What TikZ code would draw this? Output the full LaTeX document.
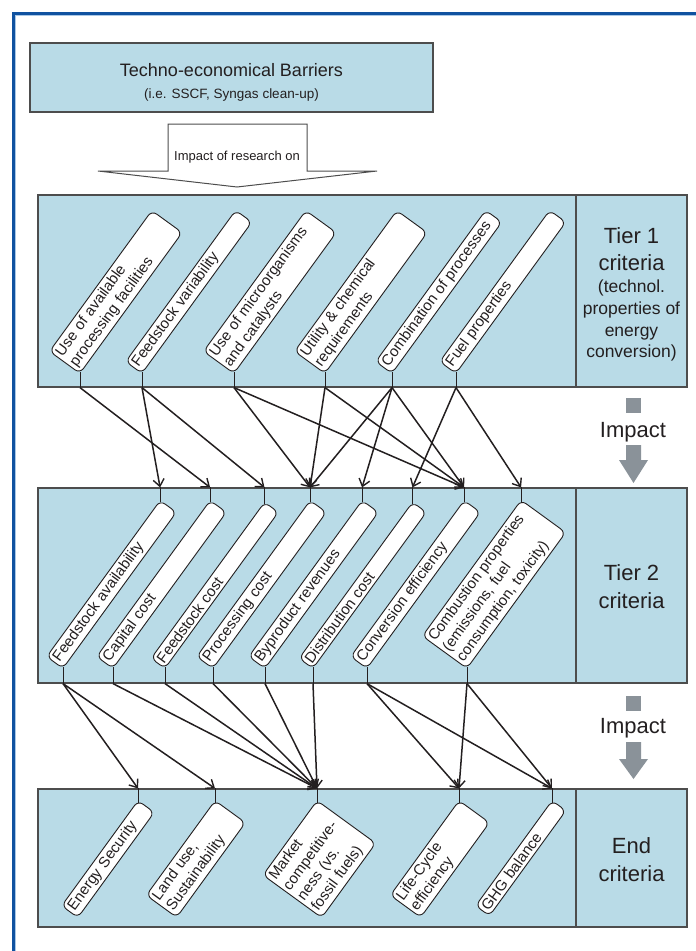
\documentclass[tikz,border=0pt]{standalone}
\usepackage{fontspec}
\setmainfont{Liberation Sans}
\usepackage{tikz}
\usepackage{xcolor}
\definecolor{boxblue}{RGB}{185, 219, 231}
\definecolor{framegray}{RGB}{77, 77, 77}
\definecolor{inkblack}{RGB}{35, 31, 32}
\definecolor{impactgray}{RGB}{138, 146, 153}
\definecolor{borderblue}{RGB}{16, 82, 160}
\definecolor{borderlight}{RGB}{170, 200, 230}
\usetikzlibrary{arrows.meta, positioning, calc}

\tikzset{
  tierbox/.style={draw=framegray, fill=boxblue, line width=1.2pt, inner sep=0pt},
  crit/.style={draw=inkblack, fill=white, line width=0.9pt, rounded corners=6pt,
               rotate=54, align=left, text width=#1, inner sep=3pt,
               font=\fontsize{15}{17.5}\selectfont},
  stem/.style={draw=inkblack, line width=0.9pt},
  impact/.style={-{Straight Barb[length=7pt, width=11pt, line width=1.4pt]},
                 draw=inkblack, line width=1.5pt},
  biglabel/.style={anchor=base, inner sep=0pt, font=\fontsize{22}{26}\selectfont},
  smalllabel/.style={anchor=base, inner sep=0pt, font=\fontsize{17.5}{21}\selectfont}
}

\begin{document}
\begin{tikzpicture}[x=1pt, y=-1pt, text=inkblack]
  \useasboundingbox (0,0) rectangle (696,951);

  % outer frame
  \draw[borderblue, line width=3pt] (13,951) -- (13,13) -- (696,13);
  \draw[borderlight, line width=1pt] (15.5,951) -- (15.5,15.5) -- (696,15.5);

  % barriers
  \node[tierbox, minimum width=403pt, minimum height=69pt] (barrier) at (231.5,77.5) {};
  \node[anchor=base, inner sep=0pt, font=\fontsize{18}{21}\selectfont] (barriertitle) at (231.5,76)
        {Techno-economical Barriers};
  \node[anchor=base, inner sep=0pt, font=\fontsize{13.5}{16}\selectfont] (barriersub) at (231.5,98)
        {(i.e. SSCF, Syngas clean-up)};

  % research arrow
  \draw[framegray, fill=white, line width=1pt]
        (168,171) -- (168,124) -- (307,124) -- (307,171) -- (377,171)
        -- (237,187) -- (98,171) -- cycle;
  \node[font=\fontsize{13}{15}\selectfont, anchor=base] (research) at (237,160) {Impact of research on};

  % tier boxes
  \node[tierbox, minimum width=538pt, minimum height=192pt] (tier1) at (307,291) {};
  \node[tierbox, minimum width=111pt, minimum height=192pt] (tier1lbl) at (631.5,291) {};
  \node[tierbox, minimum width=538pt, minimum height=195pt] (tier2) at (307,585.5) {};
  \node[tierbox, minimum width=111pt, minimum height=195pt] (tier2lbl) at (631.5,585.5) {};
  \node[tierbox, minimum width=538pt, minimum height=138pt] (endbox) at (307,858) {};
  \node[tierbox, minimum width=111pt, minimum height=138pt] (endlbl) at (631.5,858) {};

  % side labels
  \node[biglabel] (tier1a) at (631.5,243) {Tier 1};
  \node[biglabel] (tier1b) at (631.5,270) {criteria};
  \node[smalllabel] (tier1c) at (631.5,292) {(technol.};
  \node[smalllabel] (tier1d) at (631.5,314) {properties of};
  \node[smalllabel] (tier1e) at (631.5,336) {energy};
  \node[smalllabel] (tier1f) at (631.5,357) {conversion)};
  \node[biglabel] (tier2a) at (631.5,580) {Tier 2};
  \node[biglabel] (tier2b) at (631.5,608) {criteria};
  \node[biglabel] (enda) at (631.5,853) {End};
  \node[biglabel] (endb) at (631.5,881) {criteria};

  % tier 1 criteria
  \node[crit=168, anchor=south west] (avail) at (80,374) {Use of available\\processing facilities};
  \node[crit=181, anchor=south west] (feedvar) at (142,374) {Feedstock variability};
  \node[crit=168, anchor=south west] (micro) at (234,374) {Use of microorganisms\\and catalysts};
  \node[crit=168, anchor=south west] (utility) at (325,374) {Utility \& chemical\\requirements};
  \node[crit=181, anchor=south west] (combi) at (392,374) {Combination of processes};
  \node[crit=181, anchor=south west] (fuel) at (456,374) {Fuel properties};

  % tier 2 criteria
  \node[crit=187, anchor=south west] (favail) at (63,669) {Feedstock availability};
  \node[crit=187, anchor=south west] (capcost) at (113,669) {Capital cost};
  \node[crit=187, anchor=south west] (feedcost) at (165,669) {Feedstock cost};
  \node[crit=187, anchor=south west] (proccost) at (213,669) {Processing cost};
  \node[crit=187, anchor=south west] (byprod) at (265,669) {Byproduct revenues};
  \node[crit=187, anchor=south west] (distcost) at (313,669) {Distribution cost};
  \node[crit=187, anchor=south west] (conveff) at (367,669) {Conversion efficiency};
  \node[crit=162, anchor=south west] (combust) at (467,669)
        {Combustion properties\\(emissions, fuel\\consumption, toxicity)};

  % end criteria
  \node[crit=124, anchor=north east] (security) at (138,800) {Energy Security};
  \node[crit=111, anchor=north east] (landuse) at (215,800) {Land use,\\Sustainability};
  \node[crit=86, anchor=north east] (market) at (317,800) {Market\\competitive-\\ness (vs.\\fossil fuels)};
  \node[crit=111, anchor=north east] (lifecycle) at (459,800) {Life-Cycle\\efficiency};
  \node[crit=124, anchor=north east] (ghg) at (552,800) {GHG balance};

  % stems
  \foreach \n in {avail,feedvar,micro,utility,combi,fuel}
    \draw[stem] ([yshift=2.5pt]\n.south west) -- (\n.south west |- tier1.south);
  \foreach \n in {favail,capcost,feedcost,proccost,byprod,distcost,conveff,combust} {
    \draw[stem] ([yshift=2.5pt]\n.south west) -- (\n.south west |- tier2.south);
    \draw[stem] ([yshift=-2.5pt]\n.north east) -- (\n.north east |- tier2.north);
  }
  \foreach \n in {security,landuse,market,lifecycle,ghg}
    \draw[stem] ([yshift=-2.5pt]\n.north east) -- (\n.north east |- endbox.north);

  % impact arrows, tier 1 to tier 2
  \foreach \a/\b in {avail/capcost, feedvar/favail, feedvar/feedcost,
                     micro/proccost, micro/conveff, utility/proccost, utility/conveff,
                     combi/proccost, combi/byprod, combi/conveff,
                     fuel/distcost, fuel/combust}
    \draw[impact] (\a.south west |- tier1.south) -- (\b.north east |- tier2.north);

  % impact arrows, tier 2 to end
  \foreach \a/\b in {favail/security, favail/landuse,
                     capcost/market, feedcost/market, proccost/market,
                     byprod/market, distcost/market,
                     conveff/lifecycle, conveff/ghg, combust/lifecycle, combust/ghg}
    \draw[impact] (\a.south west |- tier2.south) -- (\b.north east |- endbox.north);

  % side impact marks
  \fill[impactgray] (626,398) rectangle (641,413);
  \node[biglabel] (impact1) at (633,437) {Impact};
  \fill[impactgray] (626,445) -- (641,445) -- (641,460) -- (648,460)
        -- (633.5,483) -- (619,460) -- (626,460) -- cycle;

  \fill[impactgray] (626,696) rectangle (641,711);
  \node[biglabel] (impact2) at (633,733) {Impact};
  \fill[impactgray] (626,742) -- (641,742) -- (641,759) -- (648,759)
        -- (633.5,779) -- (619,759) -- (626,759) -- cycle;
\end{tikzpicture}
\end{document}
